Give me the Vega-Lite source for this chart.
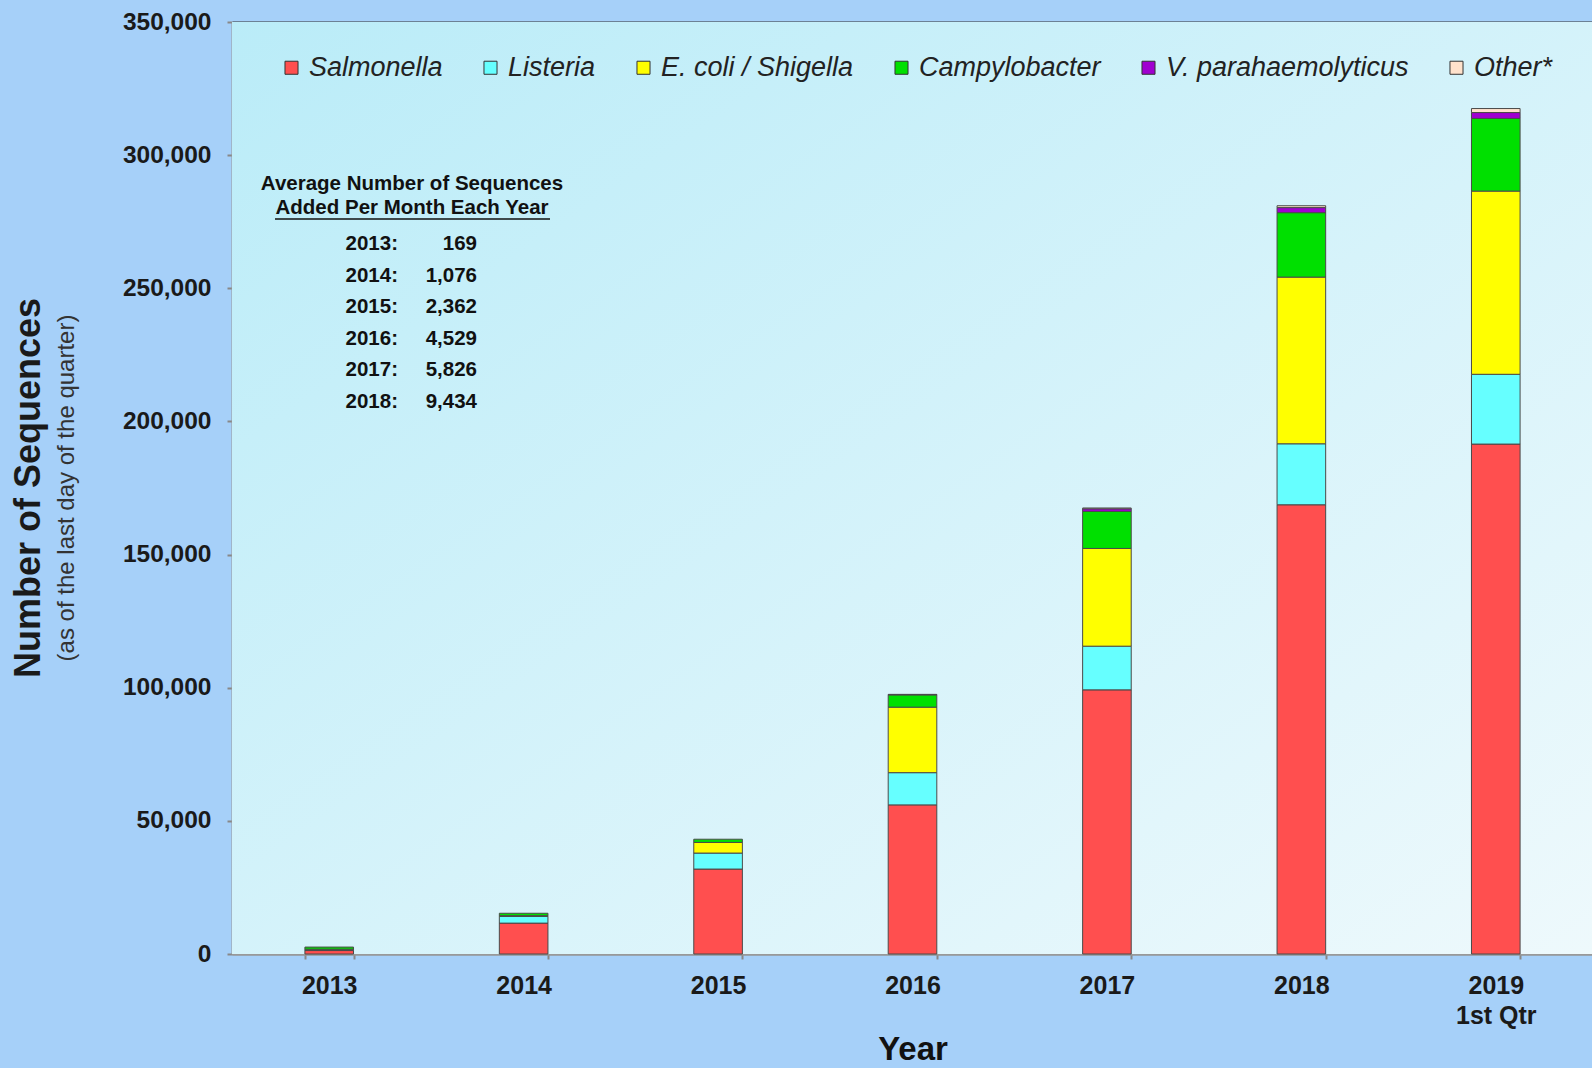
{
  "$schema": "https://vega.github.io/schema/vega-lite/v6.json",
  "width": 1361,
  "height": 932,
  "autosize": "none",
  "padding": {"left": 232, "top": 22, "right": 0, "bottom": 114},
  "background": "#A6D0F9",
  "config": {"view": {"stroke": null}, "font": "Liberation Sans"},
  "title": {
    "text": "Number of Sequences",
    "subtitle": "(as of the last day of the quarter)",
    "orient": "left",
    "anchor": "middle",
    "font": "Liberation Sans",
    "fontSize": 36,
    "fontWeight": "bold",
    "color": "#1a1a1a",
    "subtitleFont": "Liberation Sans",
    "subtitleFontSize": 24,
    "subtitleColor": "#333333",
    "subtitlePadding": 7,
    "offset": 42
  },
  "datasets": {
    "seq": [
      {"year": "2013", "organism": "Salmonella", "count": 1300, "order": 1},
      {"year": "2013", "organism": "Listeria", "count": 300, "order": 2},
      {"year": "2013", "organism": "E. coli / Shigella", "count": 200, "order": 3},
      {"year": "2013", "organism": "Campylobacter", "count": 800, "order": 4},
      {"year": "2014", "organism": "Salmonella", "count": 11600, "order": 1},
      {"year": "2014", "organism": "Listeria", "count": 2500, "order": 2},
      {"year": "2014", "organism": "E. coli / Shigella", "count": 300, "order": 3},
      {"year": "2014", "organism": "Campylobacter", "count": 900, "order": 4},
      {"year": "2015", "organism": "Salmonella", "count": 31900, "order": 1},
      {"year": "2015", "organism": "Listeria", "count": 6000, "order": 2},
      {"year": "2015", "organism": "E. coli / Shigella", "count": 4000, "order": 3},
      {"year": "2015", "organism": "Campylobacter", "count": 1200, "order": 4},
      {"year": "2016", "organism": "Salmonella", "count": 56000, "order": 1},
      {"year": "2016", "organism": "Listeria", "count": 12100, "order": 2},
      {"year": "2016", "organism": "E. coli / Shigella", "count": 24600, "order": 3},
      {"year": "2016", "organism": "Campylobacter", "count": 4600, "order": 4},
      {"year": "2016", "organism": "V. parahaemolyticus", "count": 200, "order": 5},
      {"year": "2017", "organism": "Salmonella", "count": 99200, "order": 1},
      {"year": "2017", "organism": "Listeria", "count": 16400, "order": 2},
      {"year": "2017", "organism": "E. coli / Shigella", "count": 36700, "order": 3},
      {"year": "2017", "organism": "Campylobacter", "count": 13900, "order": 4},
      {"year": "2017", "organism": "V. parahaemolyticus", "count": 1000, "order": 5},
      {"year": "2017", "organism": "Other*", "count": 300, "order": 6},
      {"year": "2018", "organism": "Salmonella", "count": 168700, "order": 1},
      {"year": "2018", "organism": "Listeria", "count": 22900, "order": 2},
      {"year": "2018", "organism": "E. coli / Shigella", "count": 62600, "order": 3},
      {"year": "2018", "organism": "Campylobacter", "count": 24200, "order": 4},
      {"year": "2018", "organism": "V. parahaemolyticus", "count": 1900, "order": 5},
      {"year": "2018", "organism": "Other*", "count": 700, "order": 6},
      {"year": "2019", "organism": "Salmonella", "count": 191500, "order": 1},
      {"year": "2019", "organism": "Listeria", "count": 26200, "order": 2},
      {"year": "2019", "organism": "E. coli / Shigella", "count": 68800, "order": 3},
      {"year": "2019", "organism": "Campylobacter", "count": 27300, "order": 4},
      {"year": "2019", "organism": "V. parahaemolyticus", "count": 2200, "order": 5},
      {"year": "2019", "organism": "Other*", "count": 1500, "order": 6}
    ],
    "avg": [
      {"yr": "2013:", "n": "169"},
      {"yr": "2014:", "n": "1,076"},
      {"yr": "2015:", "n": "2,362"},
      {"yr": "2016:", "n": "4,529"},
      {"yr": "2017:", "n": "5,826"},
      {"yr": "2018:", "n": "9,434"}
    ]
  },
  "layer": [
    {
      "data": {"values": [{}]},
      "mark": {
        "type": "rect",
        "color": {
          "gradient": "linear", "x1": 0, "y1": 0, "x2": 1, "y2": 1,
          "stops": [
            {"offset": 0, "color": "#BAECF8"},
            {"offset": 1, "color": "#EEF9FC"}
          ]
        }
      },
      "encoding": {
        "x": {"value": 0}, "x2": {"value": "width"},
        "y": {"value": 0}, "y2": {"value": "height"}
      }
    },
    {
      "data": {"name": "seq"},
      "mark": {"type": "bar", "stroke": "#4a4a4a", "strokeWidth": 1},
      "encoding": {
        "x": {
          "field": "year", "type": "nominal", "sort": null,
          "scale": {"paddingInner": 0.75, "paddingOuter": 0.375},
          "axis": {
            "title": "Year",
            "titleFont": "Liberation Sans",
            "titleFontSize": 33,
            "titleFontWeight": "bold",
            "titleColor": "#111111",
            "titlePadding": 5,
            "labelFont": "Liberation Sans",
            "labelFontSize": 25,
            "labelFontWeight": "bold",
            "labelColor": "#1a1a1a",
            "labelAngle": 0,
            "labelPadding": 14,
            "labelLineHeight": 30,
            "labelExpr": "datum.value == '2019' ? ['2019', '1st Qtr'] : datum.value",
            "tickBand": "extent",
            "tickColor": "#888888",
            "tickSize": 5,
            "tickWidth": 2,
            "domainColor": "#999999",
            "domainWidth": 2
          }
        },
        "y": {
          "field": "count", "type": "quantitative", "stack": "zero",
          "scale": {"domain": [0, 350000], "nice": false},
          "axis": {
            "title": null,
            "values": [0, 50000, 100000, 150000, 200000, 250000, 300000, 350000],
            "format": ",d",
            "labelFont": "Liberation Sans",
            "labelFontSize": 24.5,
            "labelFontWeight": "bold",
            "labelColor": "#1a1a1a",
            "labelPadding": 16,
            "tickColor": "#888888",
            "tickSize": 5,
            "tickWidth": 2,
            "domainColor": "#999999",
            "domainWidth": 2,
            "grid": true,
            "gridColor": {"condition": {"test": "datum.value === 350000", "value": "#333333"}, "value": "#8c8c8c"},
            "gridWidth": 2
          }
        },
        "color": {
          "field": "organism", "type": "nominal",
          "scale": {
            "domain": ["Salmonella", "Listeria", "E. coli / Shigella", "Campylobacter", "V. parahaemolyticus", "Other*"],
            "range": ["#FF4F4F", "#66FFFF", "#FFFF00", "#00E000", "#A000D0", "#FFE2CC"]
          },
          "legend": {
            "orient": "none",
            "legendX": 46,
            "legendY": 32,
            "direction": "horizontal",
            "columns": 6,
            "title": null,
            "symbolType": "square",
            "symbolSize": 170,
            "symbolStrokeColor": "#333333",
            "symbolStrokeWidth": 1,
            "labelFont": "Liberation Sans",
            "labelFontSize": 27,
            "labelFontStyle": "italic",
            "labelColor": "#222222",
            "labelOffset": 4,
            "columnPadding": 34,
            "labelLimit": 400
          }
        },
        "order": {"field": "order", "type": "quantitative"}
      }
    },
    {
      "data": {"values": [{}]},
      "mark": {
        "type": "text",
        "text": ["Average Number of Sequences", "Added Per Month Each Year"],
        "lineHeight": 24.5,
        "font": "Liberation Sans",
        "fontSize": 20.5,
        "fontWeight": "bold",
        "align": "center",
        "baseline": "middle",
        "color": "#111111"
      },
      "encoding": {"x": {"value": 180}, "y": {"value": 161.5}}
    },
    {
      "data": {"values": [{}]},
      "mark": {"type": "rule", "color": "#111111", "strokeWidth": 1.5},
      "encoding": {"x": {"value": 43}, "x2": {"value": 318}, "y": {"value": 197}, "y2": {"value": 197}}
    },
    {
      "data": {"name": "avg"},
      "mark": {"type": "text", "align": "right", "baseline": "middle", "font": "Liberation Sans", "fontSize": 20.5, "fontWeight": "bold", "color": "#111111"},
      "encoding": {
        "x": {"value": 166},
        "y": {"field": "yr", "type": "ordinal", "scale": {"type": "point", "range": [222, 380], "padding": 0}, "axis": null},
        "text": {"field": "yr"}
      }
    },
    {
      "data": {"name": "avg"},
      "mark": {"type": "text", "align": "right", "baseline": "middle", "font": "Liberation Sans", "fontSize": 20.5, "fontWeight": "bold", "color": "#111111"},
      "encoding": {
        "x": {"value": 245},
        "y": {"field": "yr", "type": "ordinal", "scale": {"type": "point", "range": [222, 380], "padding": 0}, "axis": null},
        "text": {"field": "n"}
      }
    }
  ],
  "resolve": {"scale": {"y": "independent"}}
}
